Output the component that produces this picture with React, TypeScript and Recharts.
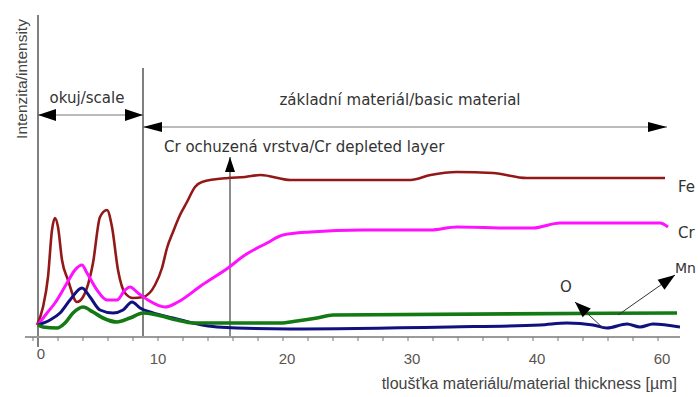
import React from "react";
import { LineChart, Line, XAxis, YAxis, ReferenceLine, ReferenceDot } from "recharts";

// depth [µm] / intensity [a.u.]
const feDepth = [0.32, 0.8, 1.2, 1.52, 1.76, 2.0, 2.32, 2.8, 3.52, 4.0, 4.8, 5.36, 5.92, 6.32, 6.8, 7.36, 8.0, 8.8, 9.76, 10.32, 10.72, 11.2, 11.76, 12.32, 12.96, 13.52, 15.6, 16.96, 18.2, 20.6, 25.4, 30.2, 31.8, 33.9, 36.8, 39.5, 50.56];
const feIntensity = [12, 30, 60, 107, 119, 110, 77, 57, 35, 40, 74, 120, 127, 110, 67, 44, 39, 40, 52, 69, 89, 105, 122, 135, 150, 155, 159, 160, 162, 157, 157, 157, 162, 165, 164, 159, 159];

const crDepth = [0.4, 1.12, 1.76, 2.72, 3.36, 3.92, 4.32, 5.12, 5.92, 6.72, 7.36, 7.76, 8.4, 9.2, 10.56, 11.6, 13.52, 15.6, 16.96, 18.72, 20.0, 22.16, 26.4, 31.76, 33.92, 38.16, 40.0, 42.16, 50.16, 50.8];
const crIntensity = [12, 24, 34, 54, 67, 72, 64, 47, 37, 37, 47, 50, 44, 37, 30, 35, 52, 69, 82, 94, 102, 105, 107, 107, 110, 109, 109, 114, 114, 110];

const oDepth = [0.4, 1.36, 2.16, 2.96, 3.92, 4.56, 5.36, 6.4, 7.2, 7.92, 8.56, 9.6, 11.2, 12.8, 14.72, 20.56, 33.36, 40.56, 42.72, 44.8, 45.92, 47.52, 48.56, 49.6, 51.76];
const oIntensity = [12, 17, 24, 37, 49, 40, 27, 24, 27, 35, 29, 24, 19, 14, 10, 8, 10, 12, 14, 12, 9, 13, 10, 13, 10];

const mnDepth = [0.4, 0.8, 1.92, 2.56, 3.2, 4.0, 4.8, 5.6, 6.72, 7.76, 8.8, 9.92, 11.52, 12.8, 19.76, 21.12, 22.72, 24.0, 51.52];
const mnIntensity = [12, 10, 9, 14, 24, 30, 25, 19, 15, 19, 24, 22, 17, 14, 14, 16, 19, 22, 24];

const majorTicks = [0, 10, 20, 30, 40, 50];
const tickLabels = ["0", "10", "20", "30", "40", "60"];

const toPoints = (xs: number[], ys: number[]) => xs.map((x, i) => ({ x, v: ys[i] }));

const series = [
  { name: "Fe", color: "#931818", width: 2.6, data: toPoints(feDepth, feIntensity) },
  { name: "Cr", color: "#ff10ff", width: 3, data: toPoints(crDepth, crIntensity) },
  { name: "O", color: "#10107f", width: 3, data: toPoints(oDepth, oIntensity) },
  { name: "Mn", color: "#137a13", width: 3.6, data: toPoints(mnDepth, mnIntensity) },
];

const minorTicks: number[] = [];
for (let t = 0; t <= 50; t += 2) minorTicks.push(t);

const ARIAL = "'Liberation Sans', Arial, sans-serif";
const WIDE = "'DejaVu Sans', Verdana, sans-serif";

function arrow(startHead: boolean, endHead: boolean, len: number, half: number, stroke = "#777", sw = 1) {
  return (p: any) => {
    const { x1, y1, x2, y2 } = p;
    const head = (tx: number, ty: number, fx: number, fy: number) => {
      const a = Math.atan2(ty - fy, tx - fx);
      const bx = tx - len * Math.cos(a);
      const by = ty - len * Math.sin(a);
      const px = -Math.sin(a) * half;
      const py = Math.cos(a) * half;
      return `${tx},${ty} ${bx + px},${by + py} ${bx - px},${by - py}`;
    };
    return (
      <g>
        <line x1={x1} y1={y1} x2={x2} y2={y2} stroke={stroke} strokeWidth={sw} />
        {startHead && <polygon points={head(x1, y1, x2, y2)} fill="#000" />}
        {endHead && <polygon points={head(x2, y2, x1, y1)} fill="#000" />}
      </g>
    );
  };
}

function note(text: string, anchor: "start" | "middle" | "end", size = 15, family = WIDE, rotate = 0, fill = "#333") {
  return (p: any) => (
    <text
      x={p.cx}
      y={p.cy}
      textAnchor={anchor}
      dominantBaseline="central"
      fontFamily={family}
      fontSize={size}
      fill={fill}
      transform={rotate ? `rotate(${rotate}, ${p.cx}, ${p.cy})` : undefined}
    >
      {text}
    </text>
  );
}

const renderTick = (props: any) => {
  const { x, y, payload } = props;
  const i = majorTicks.indexOf(payload.value);
  if (i < 0) return <g />;
  const dx = i === 0 ? 8 : i === 1 ? 0 : 4;
  return (
    <text
      x={x + dx}
      y={y + (i === 0 ? 10 : 15)}
      textAnchor="middle"
      dominantBaseline="central"
      fontFamily={ARIAL}
      fontSize={15}
      fill="#5a5550"
    >
      {tickLabels[i]}
    </text>
  );
};

export default function App(): React.ReactElement {
  return (
    <div style={{ position: "absolute", left: 0, top: 0, background: "#fff" }}>
      <LineChart width={698} height={397} margin={{ top: 17, right: 18, bottom: 0, left: 0 }}>
        <XAxis
          type="number"
          dataKey="x"
          domain={[-0.64, 51.76]}
          ticks={minorTicks}
          interval={0}
          allowDataOverflow
          height={60}
          tickSize={4}
          tick={renderTick}
          axisLine={{ stroke: "#9a9a9a", strokeWidth: 2 }}
          tickLine={{ stroke: "#777" }}
        />
        <YAxis
          type="number"
          domain={[0, 320]}
          width={25}
          allowDataOverflow
          tick={false}
          axisLine={false}
          tickLine={false}
        />

        <ReferenceLine segment={[{ x: 0.4, y: 322 }, { x: 0.4, y: -10 }]} stroke="#555" strokeWidth={1.5} ifOverflow="visible" />
        <ReferenceLine segment={[{ x: 8.8, y: 269 }, { x: 8.8, y: 0 }]} stroke="#555" strokeWidth={1.5} ifOverflow="visible" />
        <ReferenceLine segment={[{ x: 15.76, y: 0 }, { x: 15.76, y: 180 }]} ifOverflow="visible" shape={arrow(false, true, 15, 5, "#666", 1.5)} />
        <ReferenceLine segment={[{ x: 0.4, y: 222 }, { x: 8.8, y: 222 }]} ifOverflow="visible" shape={arrow(true, true, 18, 6)} />
        <ReferenceLine segment={[{ x: 8.8, y: 210 }, { x: 50.72, y: 210 }]} ifOverflow="visible" shape={arrow(true, true, 19, 5)} />

        {series.map((s) => (
          <Line
            key={s.name}
            data={s.data}
            dataKey="v"
            type="monotone"
            stroke={s.color}
            strokeWidth={s.width}
            dot={false}
            activeDot={false}
            isAnimationActive={false}
          />
        ))}

        <ReferenceLine segment={[{ x: 45.6, y: 9 }, { x: 43.36, y: 35 }]} ifOverflow="visible" shape={arrow(false, true, 16, 6, "#333")} />
        <ReferenceLine segment={[{ x: 46.8, y: 22 }, { x: 51.36, y: 62 }]} ifOverflow="visible" shape={arrow(false, true, 17, 6, "#333")} />

        <ReferenceDot x={4.32} y={239} ifOverflow="visible" shape={note("okuj/scale", "middle")} />
        <ReferenceDot x={29.36} y={237} ifOverflow="visible" shape={note("základní materiál/basic material", "middle")} />
        <ReferenceDot x={10.48} y={190} ifOverflow="visible" shape={note("Cr ochuzená vrstva/Cr depleted layer", "start")} />
        <ReferenceDot x={51.6} y={150} ifOverflow="visible" shape={note("Fe", "start")} />
        <ReferenceDot x={51.6} y={104} ifOverflow="visible" shape={note("Cr", "start")} />
        <ReferenceDot x={51.36} y={69} ifOverflow="visible" shape={note("Mn", "start", 14)} />
        <ReferenceDot x={42.64} y={50} ifOverflow="visible" shape={note("O", "middle")} />
        <ReferenceDot x={51.52} y={-46} ifOverflow="visible" shape={note("tloušťka materiálu/material thickness [µm]", "end", 16, ARIAL, 0, "#444")} />
        <ReferenceDot x={-0.96} y={258} ifOverflow="visible" shape={note("Intenzita/intensity", "middle", 15.5, ARIAL, -90, "#444")} />
      </LineChart>
    </div>
  );
}
